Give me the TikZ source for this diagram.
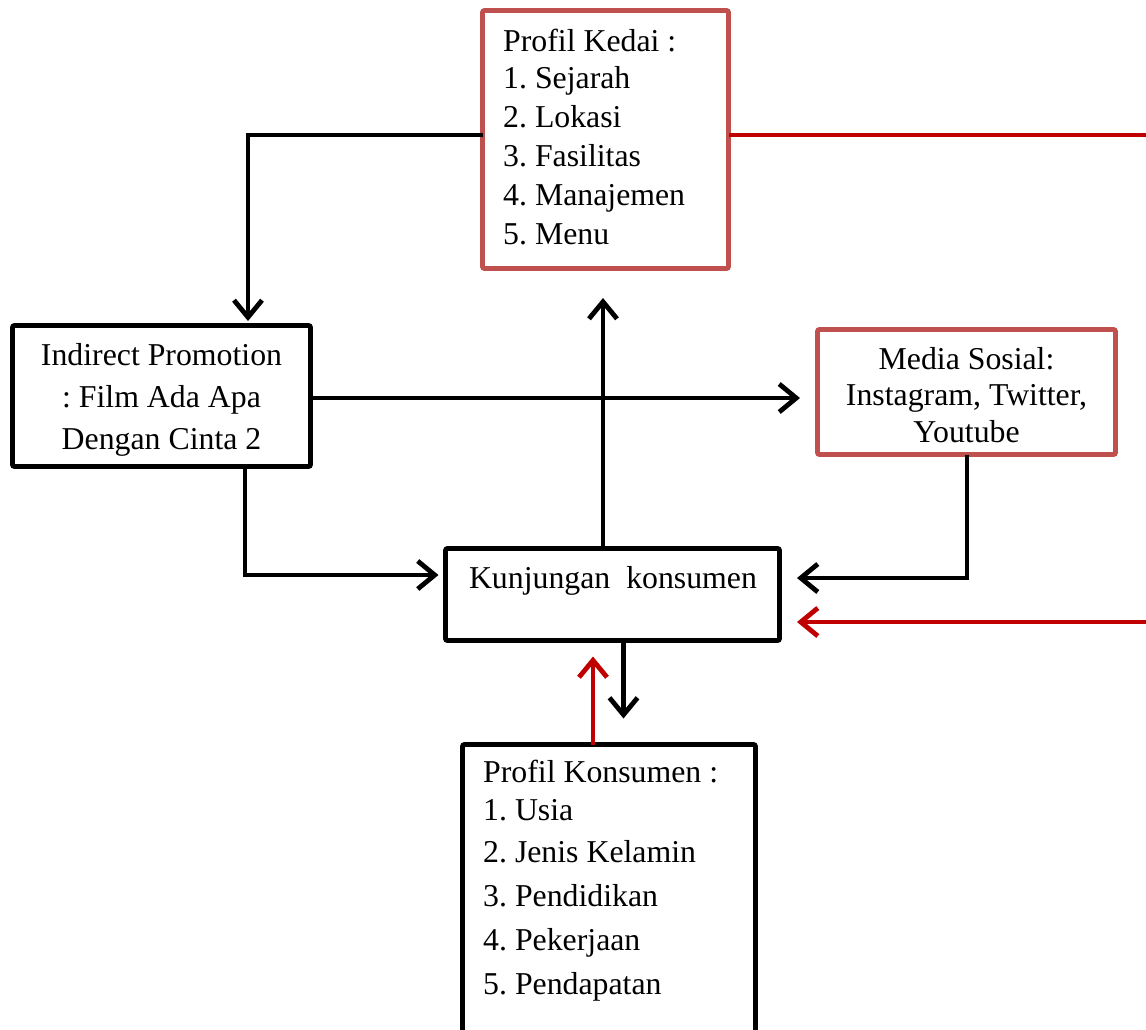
\documentclass[tikz,border=0pt]{standalone}
\usepackage{fontspec}
\setmainfont{Liberation Serif}
\frenchspacing
\usetikzlibrary{arrows.meta}
\definecolor{boxred}{HTML}{C0504D}
\definecolor{linered}{HTML}{C00000}
\begin{document}
\begin{tikzpicture}[x=1pt,y=-1pt,
  box/.style={draw=black, line width=4.8pt, rounded corners=2pt, inner sep=0pt, outer sep=0pt, anchor=north west},
  redbox/.style={box, draw=boxred},
  txt/.style={inner sep=0pt, font=\fontsize{31.8}{38}\selectfont},
  ltxt/.style={txt, anchor=base west},
  ctxt/.style={txt, anchor=base},
  conn/.style={line width=4.8pt, line join=miter, -{Straight Barb[length=17pt,width=28pt,line width=4.8pt]}},
  redconn/.style={conn, draw=linered},
  redline/.style={line width=4.8pt, draw=linered}
]
\useasboundingbox (0,0) rectangle (1146,1029);
\clip (0,0) rectangle (1146,1029);

% boxes
\node[redbox, minimum width=246pt, minimum height=258pt] (kedai) at (482.5,10.5) {};
\node[box, minimum width=298pt, minimum height=141pt] (indirect) at (12.5,325.5) {};
\node[redbox, minimum width=298pt, minimum height=125pt] (media) at (817.5,329.5) {};
\node[box, minimum width=334pt, minimum height=92pt] (kunj) at (445.5,548.5) {};
\node[box, minimum width=293pt, minimum height=320pt] (kons) at (462.5,744.5) {};

% texts
\foreach \t/\y [count=\i] in {{Profil Kedai :}/51, {1. Sejarah}/88, {2. Lokasi}/127, {3. Fasilitas}/166, {4. Manajemen}/205, {5. Menu}/244}
  \node[ltxt] (kd\i) at (503,\y) {\t};
\foreach \t/\y [count=\i] in {{Indirect Promotion}/365, {: Film Ada Apa}/407, {Dengan Cinta 2}/449}
  \node[ctxt] (ip\i) at (161.5,\y) {\t};
\foreach \t/\y [count=\i] in {{Media Sosial:}/369, {Instagram, Twitter,}/405, {Youtube}/442}
  \node[ctxt] (ms\i) at (966.5,\y) {\t};
\node[ctxt] (kt) at (613,588) {Kunjungan\ \ konsumen};
\foreach \t/\y [count=\i] in {{Profil Konsumen :}/782, {1. Usia}/820, {2. Jenis Kelamin}/862, {3. Pendidikan}/906, {4. Pekerjaan}/950, {5. Pendapatan}/994}
  \node[ltxt] (pk\i) at (483,\y) {\t};

% free ends at the right edge
\coordinate (rtop) at (1150,135);
\coordinate (rbot) at (1150,622);

% connectors
\draw[conn] ([yshift=4.5pt]kedai.west) -| ([xshift=86.5pt,yshift=4.5pt]indirect.north);
\draw[redline] ([yshift=4.5pt]kedai.east) -- (rtop) -- (rbot);
\draw[redconn] (rbot) -- ([xshift=17.5pt,yshift=-27.5pt]kunj.east);
\draw[conn] ([yshift=-2pt]indirect.east) -- ([xshift=-17.5pt,yshift=-6pt]media.west);
\draw[conn] ([xshift=83.5pt]indirect.south) |- ([xshift=-7pt,yshift=19.5pt]kunj.west);
\draw[conn, shorten >=29.5pt] ([xshift=-9.5pt]kunj.north) -- ([xshift=-9.5pt]kunj.north |- kedai.south);
\draw[conn] ([xshift=0.5pt]media.south) |- ([xshift=17.5pt,yshift=16.5pt]kunj.east);
\draw[conn, shorten >=26pt] ([xshift=11pt]kunj.south) -- ([xshift=11pt]kunj.south |- kons.north);
\draw[redconn, shorten >=16pt] ([xshift=-16pt]kons.north) -- ([xshift=-16pt]kons.north |- kunj.south);
\end{tikzpicture}
\end{document}
